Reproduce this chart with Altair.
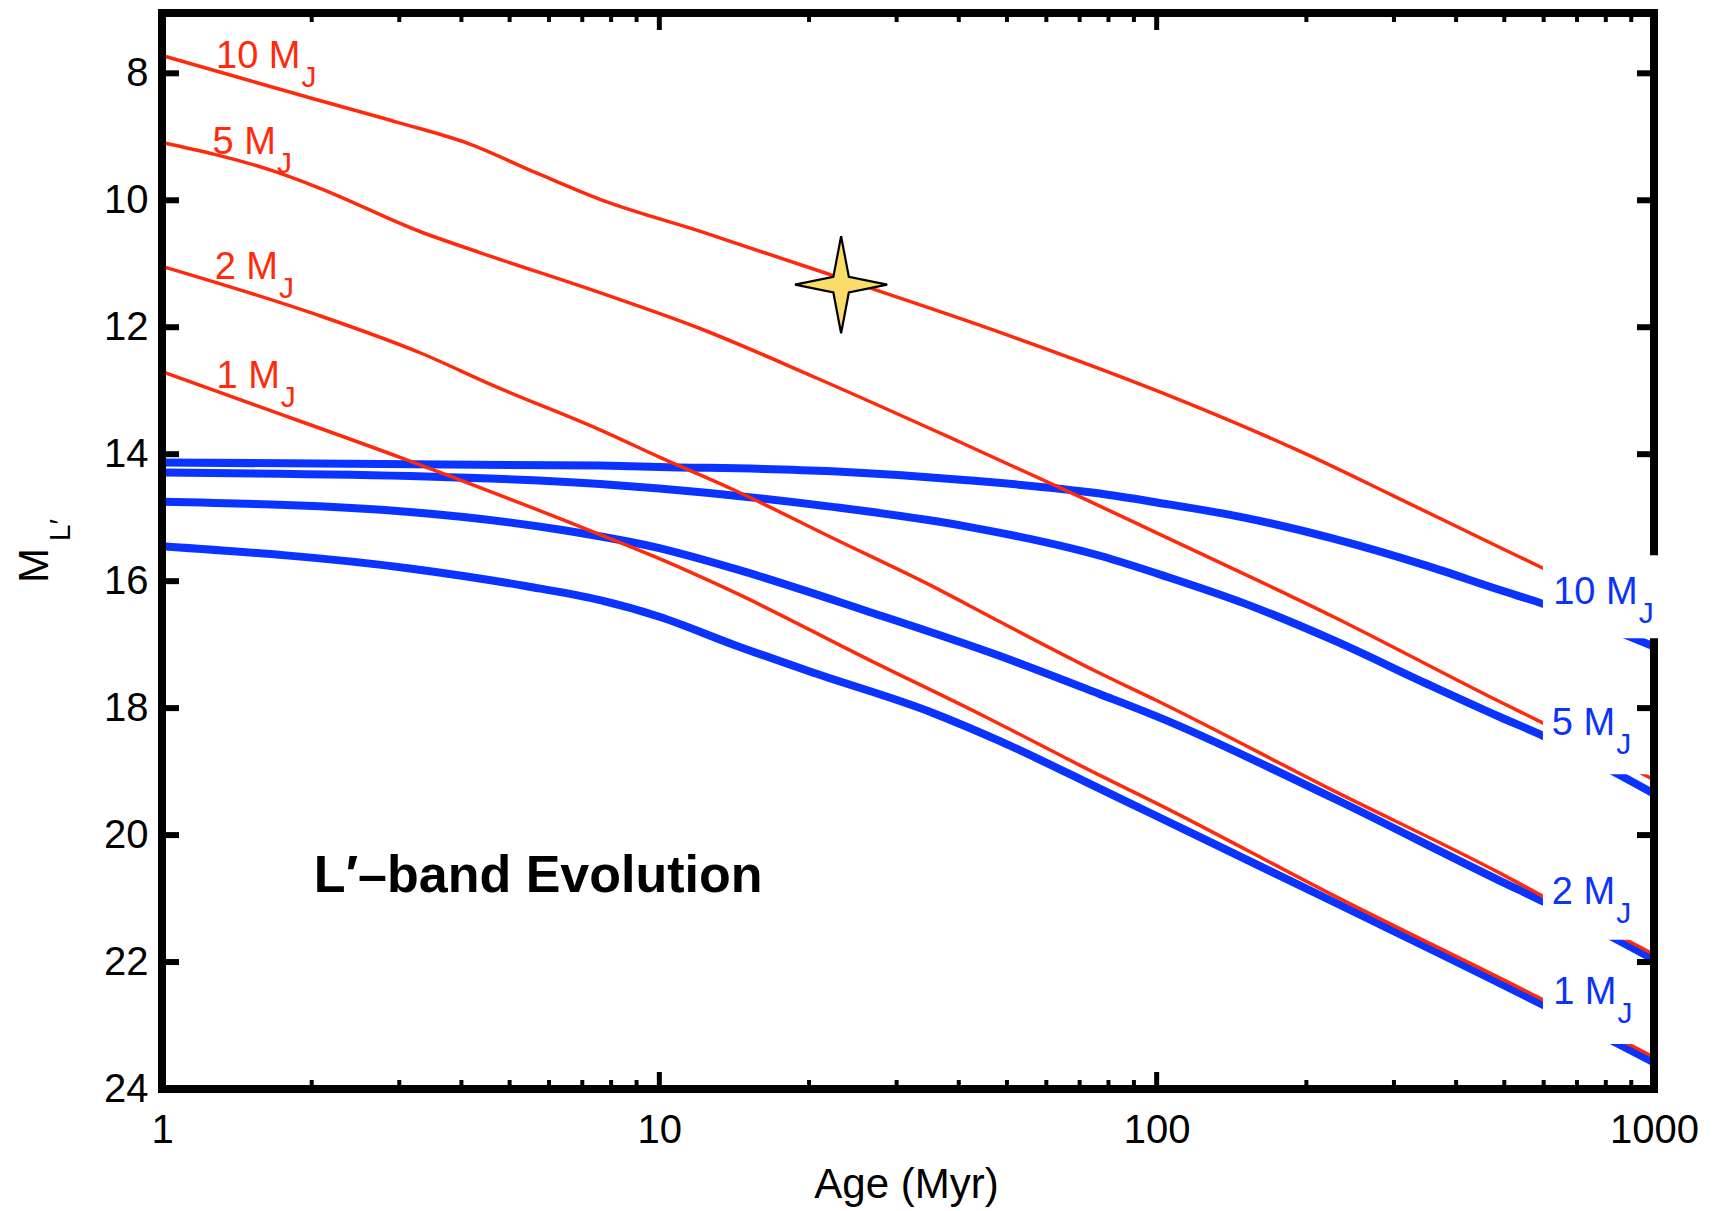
import altair as alt
import pandas as pd

# ---------------- data ----------------
# Red (thin) tracks: ages in Myr, absolute L' magnitudes
AGE_RED_10 = [1, 1.95, 3, 4.11, 5.66, 7.62, 12.1, 23, 48.4, 100, 200, 300, 490, 600, 1000]
MAG_RED_10 = [7.72, 8.37, 8.78, 9.10, 9.57, 9.99, 10.49, 11.22, 12.08, 13.00, 14.00, 14.66, 15.47, 15.80, 16.66]
AGE_RED_5 = [1, 1.69, 2.06, 3.32, 4.34, 7.62, 12.07, 20.7, 40, 72.3, 100, 226.6, 490, 600, 1000]
MAG_RED_5 = [9.09, 9.55, 9.80, 10.50, 10.82, 11.46, 12.02, 12.80, 13.80, 14.72, 15.24, 16.56, 17.90, 18.24, 19.13]
AGE_RED_2 = [1, 2.06, 3.32, 4.64, 7.62, 10.03, 14.1, 22.3, 35.6, 48.4, 76.9, 100, 226.6, 490, 600, 1000]
MAG_RED_2 = [11.04, 11.81, 12.41, 12.92, 13.62, 14.05, 14.56, 15.32, 16.09, 16.64, 17.45, 17.88, 19.30, 20.60, 20.97, 21.88]
AGE_RED_1 = [1, 1.57, 3.01, 7.62, 10.03, 14.1, 26.1, 44.8, 76.9, 100, 226.6, 600, 1000]
MAG_RED_1 = [12.70, 13.25, 14.05, 15.27, 15.65, 16.17, 17.22, 18.12, 19.06, 19.50, 20.95, 22.60, 23.50]

# Blue (thick) tracks
AGE_BLUE_10 = [1, 7.6, 10, 22.3, 41.6, 76.9, 100, 150, 226.6, 350, 490, 600, 1000]
MAG_BLUE_10 = [14.13, 14.18, 14.20, 14.27, 14.41, 14.62, 14.76, 15.00, 15.33, 15.76, 16.14, 16.36, 17.03]
AGE_BLUE_5 = [1, 3.4, 7.6, 10, 22.3, 41.6, 76.9, 104.8, 150, 226.6, 350, 490, 600, 1000]
MAG_BLUE_5 = [14.29, 14.35, 14.47, 14.54, 14.83, 15.14, 15.60, 15.93, 16.35, 16.93, 17.62, 18.14, 18.44, 19.35]
AGE_BLUE_2 = [1, 3.15, 6.33, 10, 14.1, 26.1, 48.4, 76.9, 100, 226.6, 490, 600, 1000]
MAG_BLUE_2 = [14.75, 14.91, 15.19, 15.48, 15.80, 16.47, 17.18, 17.78, 18.13, 19.42, 20.72, 21.05, 21.96]
AGE_BLUE_1 = [1, 3.15, 5.41, 7.6, 10, 14.1, 20, 35.6, 48.4, 71.5, 97.5, 226.6, 600, 1000]
MAG_BLUE_1 = [15.45, 15.80, 16.08, 16.30, 16.56, 17.00, 17.42, 18.08, 18.52, 19.15, 19.66, 21.05, 22.68, 23.58]

# Object (star symbol)
STAR_AGE = [23.2]
STAR_MAG = [11.33]

# Mass labels
LABEL_TEXT = ["10 M", "5 M", "2 M", "1 M"]
RED_LABEL_AGE = [1.284, 1.264, 1.276, 1.287]
RED_LABEL_MAG = [7.91, 9.27, 11.24, 12.96]
BLUE_LABEL_AGE = [627, 623, 623, 627]
BLUE_LABEL_MAG = [16.36, 18.42, 21.08, 22.66]

# White label backgrounds (age range, magnitude range); first one also hides the frame
BOX_AGE_LO = [598, 598, 598, 598]
BOX_AGE_HI = [1040, 985, 985, 985]
BOX_MAG_TOP = [15.59, 17.87, 20.50, 22.12]
BOX_MAG_BOT = [16.90, 19.04, 21.65, 23.29]

# Axis ticks
X_LABELS = [1, 10, 100, 1000]
X_MAJOR = [10, 100]
X_MINOR = [2, 3, 4, 5, 6, 7, 8, 9, 20, 30, 40, 50, 60, 70, 80, 90,
           200, 300, 400, 500, 600, 700, 800, 900]
Y_LABELS = [8, 10, 12, 14, 16, 18, 20, 22, 24]
Y_MAJOR = [8, 10, 12, 14, 16, 18, 20, 22]

# ---------------- style ----------------
RED = "#FF2A0C"
BLUE = "#0A33FF"
STAR_FILL = "#FADC6B"
FONT = "Liberation Sans"
W, H = 1492, 1076

CHAR_W = {"0": 0.556, "1": 0.556, "2": 0.556, "5": 0.556, " ": 0.278, "M": 0.833}


def text_width(t, size):
    return sum(CHAR_W.get(c, 0.6) for c in t) * size


def track(ages, mags, model, mass):
    return pd.DataFrame({"age": ages, "mag": mags, "model": model, "mass": mass})


red_df = pd.concat([
    track(AGE_RED_10, MAG_RED_10, "red", "10"),
    track(AGE_RED_5, MAG_RED_5, "red", "5"),
    track(AGE_RED_2, MAG_RED_2, "red", "2"),
    track(AGE_RED_1, MAG_RED_1, "red", "1"),
])
blue_df = pd.concat([
    track(AGE_BLUE_10, MAG_BLUE_10, "blue", "10"),
    track(AGE_BLUE_5, MAG_BLUE_5, "blue", "5"),
    track(AGE_BLUE_2, MAG_BLUE_2, "blue", "2"),
    track(AGE_BLUE_1, MAG_BLUE_1, "blue", "1"),
])

xs = alt.Scale(type="log", domain=[1, 1000], nice=False)
ys = alt.Scale(domain=[7.05, 24], reverse=True, nice=False, zero=False)

x_axis = alt.Axis(values=X_LABELS, format="d", domain=False, ticks=False, tickSize=0,
                  grid=False, labelFont=FONT, labelFontSize=40, labelColor="black",
                  labelPadding=53, labelBaseline="alphabetic", labelFlush=False,
                  labelOverlap=False, title="Age (Myr)", titleFont=FONT,
                  titleFontSize=42, titleFontWeight="normal", titleColor="black",
                  titleX=744, titleY=108, titleAlign="center",
                  titleBaseline="alphabetic")
y_axis = alt.Axis(values=Y_LABELS, format="d", domain=False, ticks=False, tickSize=0,
                  grid=False, labelFont=FONT, labelFontSize=40, labelColor="black",
                  labelPadding=14, labelBaseline="middle", labelOverlap=False,
                  labelFlush=False, title="M", titleFont=FONT, titleFontSize=42,
                  titleFontWeight="normal", titleColor="black", titleAngle=270,
                  titleX=-115, titleY=552, titleAlign="center",
                  titleBaseline="alphabetic")


def X(field):
    return alt.X(field, scale=xs, axis=x_axis)


def Y(field):
    return alt.Y(field, scale=ys, axis=y_axis)


blue = alt.Chart(blue_df).mark_line(color=BLUE, strokeWidth=8, interpolate="monotone").encode(
    x=X("age:Q"), y=Y("mag:Q"), detail="mass:N",
)
red = alt.Chart(red_df).mark_line(color=RED, strokeWidth=3.5, interpolate="monotone").encode(
    x=X("age:Q"), y=Y("mag:Q"), detail="mass:N",
)

STAR_PATH = ("M0,-1 L0.16,-0.16 L0.95,0 L0.16,0.16 L0,1 "
             "L-0.16,0.16 L-0.95,0 L-0.16,-0.16 Z")
star = alt.Chart(pd.DataFrame({"age": STAR_AGE, "mag": STAR_MAG})).mark_point(
    shape=STAR_PATH, size=9409, filled=True, fill=STAR_FILL, stroke="black",
    strokeWidth=2.2, opacity=1, fillOpacity=1, strokeOpacity=1,
).encode(x=X("age:Q"), y=Y("mag:Q"))

one = pd.DataFrame({"k": [0]})
frame_kw = dict(color="black", strokeWidth=8, strokeCap="square")
frame = [
    alt.Chart(one).mark_rule(**frame_kw).encode(x=alt.value(0), x2=alt.value(W), y=alt.value(0)),
    alt.Chart(one).mark_rule(**frame_kw).encode(x=alt.value(0), x2=alt.value(W), y=alt.value(H)),
    alt.Chart(one).mark_rule(**frame_kw).encode(x=alt.value(0), y=alt.value(0), y2=alt.value(H)),
    alt.Chart(one).mark_rule(**frame_kw).encode(x=alt.value(W), y=alt.value(0), y2=alt.value(H)),
]


def xticks(vals, length, width):
    d = pd.DataFrame({"t": vals})
    return [
        alt.Chart(d).mark_rule(color="black", strokeWidth=width).encode(
            x=X("t:Q"), y=alt.value(H), y2=alt.value(H - length)),
        alt.Chart(d).mark_rule(color="black", strokeWidth=width).encode(
            x=X("t:Q"), y=alt.value(0), y2=alt.value(length)),
    ]


def yticks(vals, length, width):
    d = pd.DataFrame({"t": vals})
    return [
        alt.Chart(d).mark_rule(color="black", strokeWidth=width).encode(
            y=Y("t:Q"), x=alt.value(0), x2=alt.value(length)),
        alt.Chart(d).mark_rule(color="black", strokeWidth=width).encode(
            y=Y("t:Q"), x=alt.value(W), x2=alt.value(W - length)),
    ]


ticks = xticks(X_MAJOR, 17, 5) + xticks(X_MINOR, 9, 4) + yticks(Y_MAJOR, 17, 6)

box_df = pd.DataFrame({"a0": BOX_AGE_LO, "a1": BOX_AGE_HI,
                       "m0": BOX_MAG_TOP, "m1": BOX_MAG_BOT})


def box_layer(d):
    return alt.Chart(d).mark_rect(color="white", opacity=1).encode(
        x=X("a0:Q"), x2="a1:Q", y=Y("m0:Q"), y2="m1:Q")


boxes_under_frame = box_layer(box_df.iloc[1:])
box_over_frame = box_layer(box_df.iloc[:1])


def label_layers(ages, mags, texts, color):
    out = []
    for a, m, t in zip(ages, mags, texts):
        d = pd.DataFrame({"age": [a], "mag": [m]})
        base = alt.Chart(d).encode(x=X("age:Q"), y=Y("mag:Q"))
        out.append(base.mark_text(text=t, align="left", baseline="alphabetic",
                                  font=FONT, fontSize=38, color=color))
        out.append(base.mark_text(text="J", align="left", baseline="alphabetic",
                                  font=FONT, fontSize=30, color=color,
                                  dx=text_width(t, 38) + 1, dy=19))
    return out


labels = (label_layers(RED_LABEL_AGE, RED_LABEL_MAG, LABEL_TEXT, RED)
          + label_layers(BLUE_LABEL_AGE, BLUE_LABEL_MAG, LABEL_TEXT, BLUE))

panel_title = alt.Chart(pd.DataFrame({"age": [2.02], "mag": [20.89]})).mark_text(
    text="L\u2032\u2013band Evolution", align="left", baseline="alphabetic",
    font=FONT, fontSize=52, fontWeight="bold", color="black",
).encode(x=X("age:Q"), y=Y("mag:Q"))

y_sub = alt.Chart(one).mark_text(
    text="L\u2032", angle=270, align="center", baseline="alphabetic",
    font=FONT, fontSize=30, color="black",
).encode(x=alt.value(-92), y=alt.value(517))

chart = alt.layer(
    blue, red, star, boxes_under_frame, *frame, *ticks, box_over_frame,
    *labels, panel_title, y_sub
).properties(
    width=W, height=H,
    padding={"left": 162, "top": 13, "right": 67, "bottom": 122},
    autosize=alt.AutoSizeParams(type="none"),
).configure_view(strokeWidth=0).configure(background="white")

chart.save("out.html", embed_options={"renderer": "svg", "actions": False})
